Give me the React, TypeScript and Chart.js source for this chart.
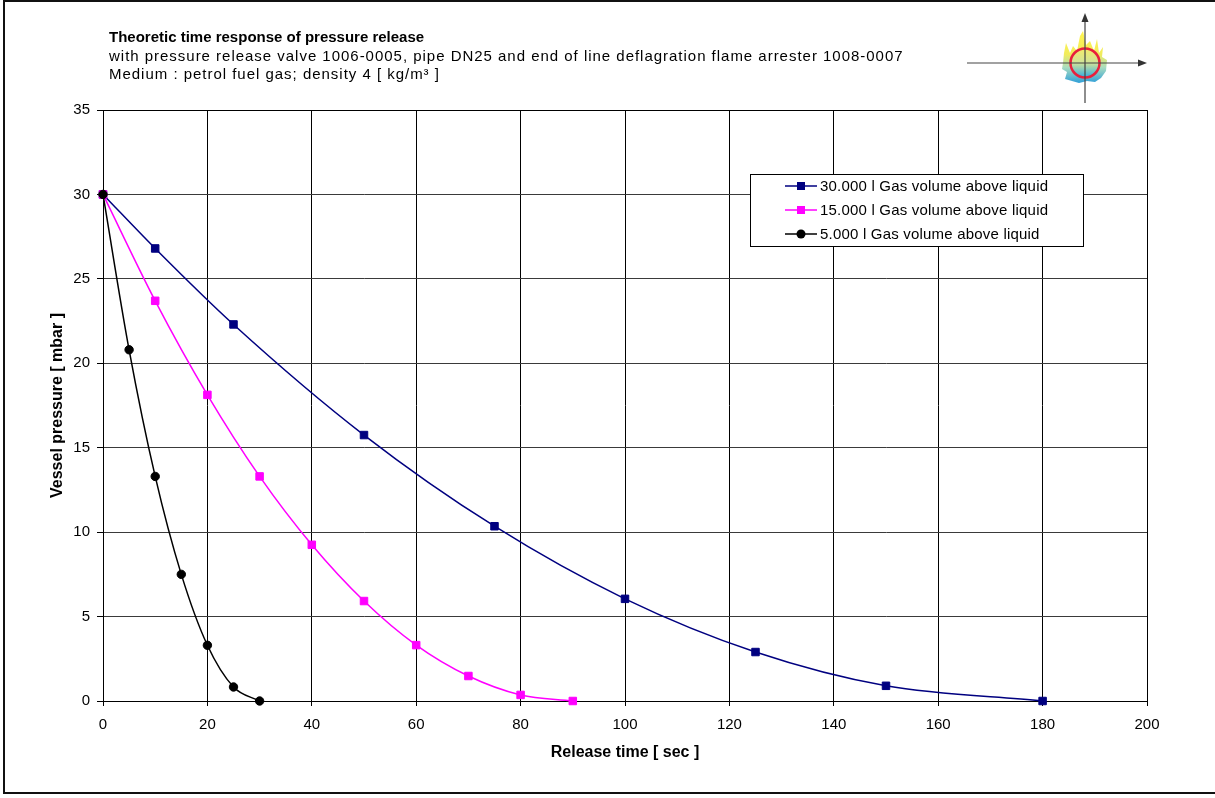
import React, { useEffect, useRef } from 'react';
import { Chart, registerables } from 'chart.js';

Chart.register(...registerables);

// ---- data ----
const time30000 = [0, 10, 25, 50, 75, 100, 125, 150, 180];
const pressure30000 = [30, 26.8, 22.3, 15.75, 10.35, 6.05, 2.9, 0.9, 0];
const time15000 = [0, 10, 20, 30, 40, 50, 60, 70, 80, 90];
const pressure15000 = [30, 23.7, 18.13, 13.3, 9.25, 5.92, 3.31, 1.48, 0.36, 0];
const time5000 = [0, 5, 10, 15, 20, 25, 30];
const pressure5000 = [30, 20.8, 13.3, 7.5, 3.3, 0.83, 0];

const seriesLabels = [
  '30.000 l Gas volume above liquid',
  '15.000 l Gas volume above liquid',
  '5.000 l Gas volume above liquid',
];
const titleLines = [
  'Theoretic time response of pressure release',
  'with pressure release valve 1006-0005, pipe DN25 and end of line deflagration flame arrester 1008-0007',
  'Medium : petrol fuel gas; density 4 [ kg/m³ ]',
];
const xAxisTitle = 'Release time [ sec ]';
const yAxisTitle = 'Vessel pressure [ mbar ]';
const xMin = 0, xMax = 200, xStep = 20;
const yMin = 0, yMax = 35, yStep = 5;

const FONT = "Arial, 'Liberation Sans', Helvetica, sans-serif";
const W = 1215, H = 798;

const toPoints = (xs: number[], ys: number[]) => xs.map((x, i) => ({ x, y: ys[i] }));

const framePlugin = {
  id: 'frame',
  beforeDraw(chart: any) {
    const { ctx } = chart;
    ctx.save();
    ctx.fillStyle = '#fff';
    ctx.fillRect(0, 0, W, H);
    ctx.strokeStyle = '#111';
    ctx.lineWidth = 2;
    ctx.strokeRect(4, 1, W + 10, 792);
    ctx.restore();
  },
  beforeDatasetsDraw(chart: any) {
    const { ctx, chartArea: a } = chart;
    ctx.save();
    ctx.strokeStyle = '#000';
    ctx.lineWidth = 1;
    ctx.strokeRect(Math.round(a.left) + 0.5, Math.round(a.top) + 0.5, Math.round(a.right - a.left), Math.round(a.bottom - a.top));
    ctx.restore();
  },
  afterDraw(chart: any) {
    const { ctx, chartArea: a } = chart;
    ctx.save();
    // titles
    ctx.fillStyle = '#000';
    ctx.textAlign = 'left';
    ctx.textBaseline = 'alphabetic';
    ctx.font = `bold 15px ${FONT}`;
    ctx.fillText(titleLines[0], 109, 42);
    ctx.font = `15px ${FONT}`;
    (ctx as any).letterSpacing = '0.98px';
    ctx.fillText(titleLines[1], 109, 61);
    ctx.fillText(titleLines[2], 109, 79);
    (ctx as any).letterSpacing = '0px';

    // logo
    drawLogo(ctx);

    // legend box
    const left = a.left + 647, top = a.top + 64, w = 333, h = 72;
    ctx.fillStyle = '#fff';
    ctx.fillRect(left, top, w, h);
    ctx.strokeStyle = '#000';
    ctx.lineWidth = 1;
    ctx.strokeRect(Math.round(left) + 0.5, Math.round(top) + 0.5, w, h);
    chart.data.datasets.forEach((ds: any, i: number) => {
      const y = top + 12 + i * 24;
      ctx.strokeStyle = ds.borderColor;
      ctx.lineWidth = 1.5;
      ctx.beginPath();
      ctx.moveTo(left + 35, y);
      ctx.lineTo(left + 67, y);
      ctx.stroke();
      ctx.fillStyle = ds.pointBackgroundColor;
      if (ds.pointStyle === 'circle') {
        ctx.beginPath();
        ctx.arc(left + 51, y, 4.5, 0, Math.PI * 2);
        ctx.fill();
      } else {
        ctx.fillRect(left + 47, y - 4, 8, 8);
      }
      ctx.fillStyle = '#000';
      ctx.font = `15px ${FONT}`;
      (ctx as any).letterSpacing = '0.2px';
      ctx.textBaseline = 'middle';
      ctx.fillText(ds.label, left + 70, y + 0.5);
      (ctx as any).letterSpacing = '0px';
    });
    ctx.restore();
  },
};

function drawLogo(ctx: CanvasRenderingContext2D) {
  const cx = 1085, cy = 63;
  ctx.save();
  // flame
  const g = ctx.createLinearGradient(0, cy - 32, 0, cy + 20);
  g.addColorStop(0, '#fff44f');
  g.addColorStop(0.45, '#f1ec5c');
  g.addColorStop(0.7, '#a9dcc0');
  g.addColorStop(1, '#2f9fd8');
  ctx.fillStyle = g;
  const pts = [
    [-22, 0], [-21, -10], [-19, -20], [-15, -10], [-12, -17], [-8, -12], [-5, -27], [-2, -32],
    [1, -18], [5, -22], [9, -12], [12, -24], [14, -10], [18, -16], [17, -6], [22, -3], [21, 8],
    [16, 15], [10, 19], [2, 18], [-6, 20], [-13, 18], [-20, 16], [-18, 9], [-23, 6],
  ];
  ctx.beginPath();
  pts.forEach(([dx, dy], i) => (i === 0 ? ctx.moveTo(cx + dx, cy + dy) : ctx.lineTo(cx + dx, cy + dy)));
  ctx.closePath();
  ctx.fill();
  // circle
  const rg = ctx.createLinearGradient(0, cy - 14, 0, cy + 14);
  rg.addColorStop(0, '#f3ea6a');
  rg.addColorStop(0.5, '#cfe39a');
  rg.addColorStop(1, '#38aee0');
  ctx.fillStyle = rg;
  ctx.beginPath();
  ctx.arc(cx, cy, 14.5, 0, Math.PI * 2);
  ctx.fill();
  ctx.strokeStyle = '#e8203c';
  ctx.lineWidth = 2.5;
  ctx.stroke();
  // cross axes
  ctx.strokeStyle = '#444';
  ctx.fillStyle = '#333';
  ctx.lineWidth = 1.2;
  ctx.beginPath();
  ctx.moveTo(967, cy);
  ctx.lineTo(1140, cy);
  ctx.moveTo(cx, 103);
  ctx.lineTo(cx, 20);
  ctx.stroke();
  ctx.beginPath();
  ctx.moveTo(1147, cy);
  ctx.lineTo(1138, cy - 3.5);
  ctx.lineTo(1138, cy + 3.5);
  ctx.closePath();
  ctx.fill();
  ctx.beginPath();
  ctx.moveTo(cx, 13);
  ctx.lineTo(cx - 3.5, 22);
  ctx.lineTo(cx + 3.5, 22);
  ctx.closePath();
  ctx.fill();
  ctx.restore();
}

export default function App() {
  const ref = useRef<HTMLCanvasElement | null>(null);

  useEffect(() => {
    document.body.style.margin = '0';
    const canvas = ref.current;
    if (!canvas) return;
    const common = {
      borderWidth: 1.5,
      cubicInterpolationMode: 'monotone' as const,
      pointBorderWidth: 1,
      pointHoverRadius: 5,
      clip: false as const,
      fill: false,
    };
    const chart = new Chart(canvas, {
      type: 'line',
      data: {
        datasets: [
          {
            ...common,
            label: seriesLabels[0],
            data: toPoints(time30000, pressure30000),
            borderColor: '#000080',
            backgroundColor: '#000080',
            pointBackgroundColor: '#000080',
            pointBorderColor: '#000080',
            pointStyle: 'rect',
            pointRadius: 5.3,
            order: 2,
          },
          {
            ...common,
            label: seriesLabels[1],
            data: toPoints(time15000, pressure15000),
            borderColor: '#ff00ff',
            backgroundColor: '#ff00ff',
            pointBackgroundColor: '#ff00ff',
            pointBorderColor: '#ff00ff',
            pointStyle: 'rect',
            pointRadius: 5.3,
            order: 1,
          },
          {
            ...common,
            label: seriesLabels[2],
            data: toPoints(time5000, pressure5000),
            borderColor: '#000000',
            backgroundColor: '#000000',
            pointBackgroundColor: '#000000',
            pointBorderColor: '#000000',
            pointStyle: 'circle',
            pointRadius: 4.2,
            order: 0,
          },
        ] as any,
      },
      options: {
        animation: false,
        responsive: false,
        devicePixelRatio: 1,
        layout: { padding: { left: 0, right: W - 1147, top: 110, bottom: 0 } },
        plugins: {
          legend: { display: false },
          tooltip: { enabled: false },
          title: { display: false },
        },
        scales: {
          x: {
            type: 'linear',
            min: xMin,
            max: xMax,
            afterFit(scale: any) {
              scale.height = H - 701;
            },
            ticks: {
              stepSize: xStep,
              autoSkip: false,
              maxRotation: 0,
              padding: 10,
              color: '#000',
              font: { family: FONT, size: 15 },
            },
            grid: { color: '#000', lineWidth: 1, tickLength: 5, tickColor: '#000', drawTicks: true },
            border: { display: true, color: '#000', width: 1 },
            title: {
              display: true,
              text: xAxisTitle,
              color: '#000',
              font: { family: FONT, size: 16, weight: 'bold' },
              padding: { top: 0, bottom: 36 },
            },
          },
          y: {
            type: 'linear',
            min: yMin,
            max: yMax,
            afterFit(scale: any) {
              scale.width = 103;
            },
            ticks: {
              stepSize: yStep,
              padding: 7,
              color: '#000',
              font: { family: FONT, size: 15 },
            },
            grid: { color: '#3a3a3a', lineWidth: 1, tickLength: 6, tickColor: '#000', drawTicks: true },
            border: { display: true, color: '#000', width: 1 },
            title: {
              display: true,
              text: yAxisTitle,
              color: '#000',
              font: { family: FONT, size: 16, weight: 'bold' },
              padding: { top: 48, bottom: 0 },
            },
          },
        },
      } as any,
      plugins: [framePlugin],
    });
    return () => chart.destroy();
  }, []);

  return (
    <div style={{ position: 'fixed', left: 0, top: 0, width: W, height: H, background: '#fff' }}>
      <canvas ref={ref} width={W} height={H} style={{ width: W, height: H, display: 'block' }} />
    </div>
  );
}
